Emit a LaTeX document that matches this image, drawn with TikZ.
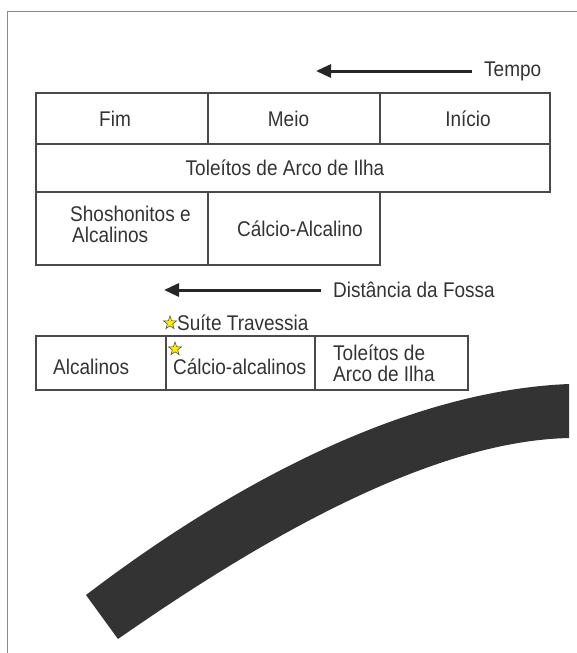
\documentclass[tikz,border=0pt]{standalone}
\usepackage{fontspec}
\setmainfont{Liberation Sans}
\usetikzlibrary{arrows.meta,shapes.geometric}
\definecolor{txt}{HTML}{333333}
\definecolor{frm}{HTML}{8A8A8A}
\definecolor{cellline}{HTML}{4A4A4A}
\definecolor{band}{HTML}{333333}
\newcommand\vtxt[1]{\scalebox{1}[1.12]{#1}}
\newcommand\vtwo[2]{\scalebox{1}[1.12]{\begin{tabular}{@{}l@{}}#1\\[-3pt]#2\end{tabular}}}
\tikzset{
  cell/.style={draw=cellline, line width=1.1pt, rectangle, inner sep=0pt, text=txt, align=center},
  lbl/.style={inner sep=0pt, text=txt, anchor=west},
  bigarrow/.style={draw=black!85, line width=3pt, -{Triangle[length=15pt,width=13pt]}},
  ystar/.style={star, star points=5, star point ratio=2.5, fill=yellow!95!orange, draw=black!75, line width=0.5pt, minimum size=14pt, inner sep=0pt}
}
\begin{document}
\begin{tikzpicture}[x=1pt,y=-1pt,font=\fontsize{19}{22}\selectfont]
\useasboundingbox (0,0) rectangle (577,653);
% frame
\draw[frm, line width=1pt] (7,653) -- (7,11) -- (577,11);
% Tempo arrow
\node[lbl] (tempo) at (484,71) {\vtxt{Tempo}};
\coordinate (ttip) at (316,71);
\draw[bigarrow, shorten <=12pt] (tempo.west) -- (ttip);
% Table 1
\node[cell, minimum width=172pt, minimum height=51pt] (fim) at (122,118.5) {\vtxt{Fim}\hspace*{14pt}};
\node[cell, minimum width=172pt, minimum height=51pt] (meio) at (294,118.5) {\vtxt{Meio}\hspace*{11pt}};
\node[cell, minimum width=170pt, minimum height=51pt] (inicio) at (465,118.5) {\hspace*{6pt}\vtxt{Início}};
\node[cell, minimum width=514pt, minimum height=48pt] (tol) at (293,168) {\vtxt{Toleítos de Arco de Ilha}\hspace*{16pt}};
\node[cell, minimum width=172pt, minimum height=73pt] (shosh) at (122,228.5) {};
\node[lbl] (shoshtxt) at (70,227) {\vtwo{Shoshonitos e}{\hspace*{2pt}Alcalinos}};
\node[cell, minimum width=172pt, minimum height=73pt] (calc) at (294,228.5) {\hspace*{12pt}\vtxt{Cálcio-Alcalino}};
% Distancia arrow
\node[lbl] (dist) at (333,290) {\vtxt{Distância da Fossa}};
\coordinate (dtip) at (164,290);
\draw[bigarrow, shorten <=12pt] (dist.west) -- (dtip);
% Suite Travessia
\node[ystar] (s1) at (170,323) {};
\node[lbl] (suite) at (177,323) {\vtxt{Suíte Travessia}};
% Table 2
\node[cell, minimum width=130pt, minimum height=54pt] (alc) at (101,363) {};
\node[lbl] (alctxt) at (53,367) {\vtxt{Alcalinos}};
\node[cell, minimum width=149pt, minimum height=54pt] (calc2) at (240.5,363) {};
\node[lbl] (calc2txt) at (173,367) {\vtxt{Cálcio-alcalinos}};
\node[ystar] (s2) at (175,349) {};
\node[cell, minimum width=153pt, minimum height=54pt] (tol2) at (391.5,363) {};
\node[lbl] (tol2txt) at (333,366) {\vtwo{Toleítos de}{Arco de Ilha}};
% band (slab)
\fill[band] (86,595) .. controls (250,470) and (420,390) .. (569,384)
  -- (569,438) .. controls (430,441) and (260,540) .. (118,639) -- cycle;
\end{tikzpicture}
\end{document}
